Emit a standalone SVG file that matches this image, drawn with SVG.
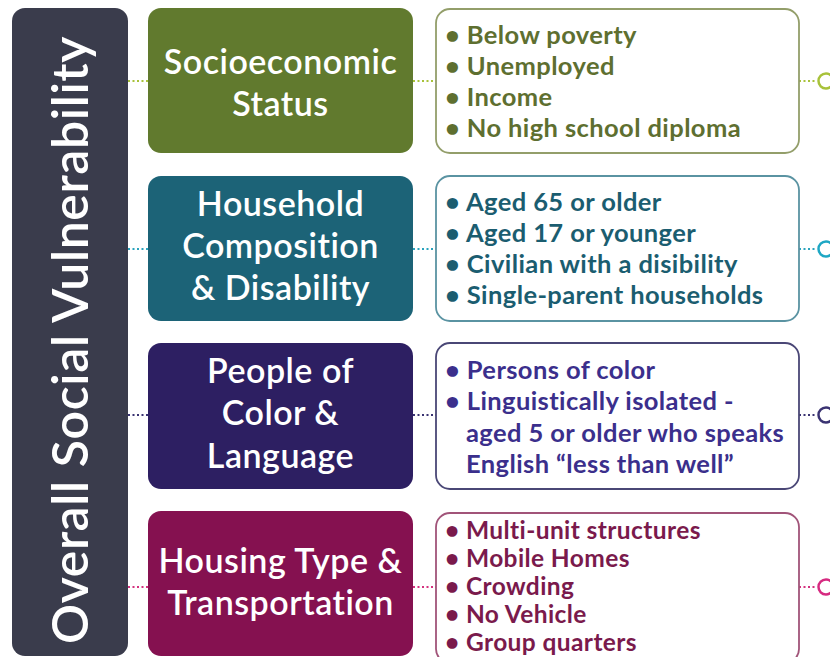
<svg xmlns="http://www.w3.org/2000/svg" width="830" height="657" viewBox="0 0 830 657">
  <style>
    .title { font-family: Lato, "Noto Sans", "Liberation Sans", sans-serif; font-size: 34px; letter-spacing: 0.5px; font-weight: 600; fill: #ffffff; text-anchor: middle; }
    .item { font-family: Lato, "Noto Sans", "Liberation Sans", sans-serif; font-size: 25.5px; letter-spacing: 0.4px; font-weight: 700; }
    .panel { fill: #ffffff; stroke-width: 1.8; }
    .dot { fill: none; stroke-width: 2; stroke-dasharray: 2 2.5; }
    .ring { fill: none; stroke-width: 2.5; }
  </style>

  <rect width="830" height="657" fill="#ffffff"/>

  <!-- vertical bar -->
  <g id="overall">
    <rect x="12" y="8" width="116" height="648" rx="13" fill="#3a3c4c"/>
    <text class="title" transform="translate(88 340) rotate(-90)" style="font-size:50px;letter-spacing:0.6px">Overall Social Vulnerability</text>
  </g>

  <!-- dotted connectors and end rings -->
  <g id="connectors">
    <line class="dot" x1="128" y1="81" x2="148" y2="81" stroke="#a8c23a"/>
    <line class="dot" x1="413" y1="81" x2="436" y2="81" stroke="#a8c23a"/>
    <line class="dot" x1="799" y1="81" x2="817" y2="81" stroke="#a8c23a"/>
    <circle class="ring" cx="826" cy="81" r="7.5" stroke="#a8c23a"/>

    <line class="dot" x1="128" y1="249" x2="148" y2="249" stroke="#2aa3bd"/>
    <line class="dot" x1="413" y1="249" x2="436" y2="249" stroke="#2aa3bd"/>
    <line class="dot" x1="799" y1="249" x2="817" y2="249" stroke="#2aa3bd"/>
    <circle class="ring" cx="826" cy="249" r="7.5" stroke="#1ea7c4"/>

    <line class="dot" x1="128" y1="415" x2="148" y2="415" stroke="#3a3372"/>
    <line class="dot" x1="413" y1="415" x2="436" y2="415" stroke="#3a3372"/>
    <line class="dot" x1="799" y1="415" x2="817" y2="415" stroke="#3a3372"/>
    <circle class="ring" cx="826" cy="415" r="7.5" stroke="#3a3372"/>

    <line class="dot" x1="128" y1="587" x2="148" y2="587" stroke="#d4327f"/>
    <line class="dot" x1="413" y1="587" x2="436" y2="587" stroke="#d4327f"/>
    <line class="dot" x1="799" y1="587" x2="817" y2="587" stroke="#d4327f"/>
    <circle class="ring" cx="826" cy="587" r="7.5" stroke="#d62a80"/>
  </g>

  <!-- row 1 -->
  <g id="socioeconomic">
    <rect x="148" y="8" width="265" height="145" rx="13" fill="#617a2e"/>
    <text class="title" x="280.5" y="74">Socioeconomic</text>
    <text class="title" x="280.5" y="116">Status</text>
  </g>
  <g id="socioeconomic-list">
    <rect class="panel" x="436" y="9" width="363" height="144" rx="14" stroke="#939e6a"/>
    <text class="item" fill="#5e6f30">
      <tspan x="445" y="44">• Below poverty</tspan>
      <tspan x="445" y="75">• Unemployed</tspan>
      <tspan x="445" y="106">• Income</tspan>
      <tspan x="445" y="137">• No high school diploma</tspan>
    </text>
  </g>

  <!-- row 2 -->
  <g id="household">
    <rect x="148" y="176" width="265" height="145" rx="13" fill="#1c6377"/>
    <text class="title" x="280.5" y="216">Household</text>
    <text class="title" x="280.5" y="258">Composition</text>
    <text class="title" x="280.5" y="300">&amp; Disability</text>
  </g>
  <g id="household-list">
    <rect class="panel" x="436" y="176" width="363" height="145" rx="14" stroke="#5a93a2"/>
    <text class="item" fill="#1b5d70">
      <tspan x="445" y="211">• Aged 65 or older</tspan>
      <tspan x="445" y="242">• Aged 17 or younger</tspan>
      <tspan x="445" y="273">• Civilian with a disibility</tspan>
      <tspan x="445" y="304">• Single-parent households</tspan>
    </text>
  </g>

  <!-- row 3 -->
  <g id="color-language">
    <rect x="148" y="343" width="265" height="146" rx="13" fill="#2d1f62"/>
    <text class="title" x="280.5" y="383">People of</text>
    <text class="title" x="280.5" y="425">Color &amp;</text>
    <text class="title" x="280.5" y="468">Language</text>
  </g>
  <g id="color-language-list">
    <rect class="panel" x="436" y="343" width="363" height="146" rx="14" stroke="#4a4776"/>
    <text class="item" fill="#3b2f8c">
      <tspan x="445" y="379">• Persons of color</tspan>
      <tspan x="445" y="410">• Linguistically isolated -</tspan>
      <tspan x="466" y="442">aged 5 or older who speaks</tspan>
      <tspan x="466" y="473">English “less than well”</tspan>
    </text>
  </g>

  <!-- row 4 -->
  <g id="housing">
    <rect x="148" y="511" width="265" height="145" rx="13" fill="#851150"/>
    <text class="title" x="280.5" y="573">Housing Type &amp;</text>
    <text class="title" x="280.5" y="615">Transportation</text>
  </g>
  <g id="housing-list">
    <rect class="panel" x="436" y="513" width="363" height="150" rx="14" stroke="#a15479"/>
    <text class="item" fill="#7a1a4c" style="font-size:24.5px">
      <tspan x="445" y="539">• Multi-unit structures</tspan>
      <tspan x="445" y="567">• Mobile Homes</tspan>
      <tspan x="445" y="595">• Crowding</tspan>
      <tspan x="445" y="623">• No Vehicle</tspan>
      <tspan x="445" y="651">• Group quarters</tspan>
    </text>
  </g>
</svg>
